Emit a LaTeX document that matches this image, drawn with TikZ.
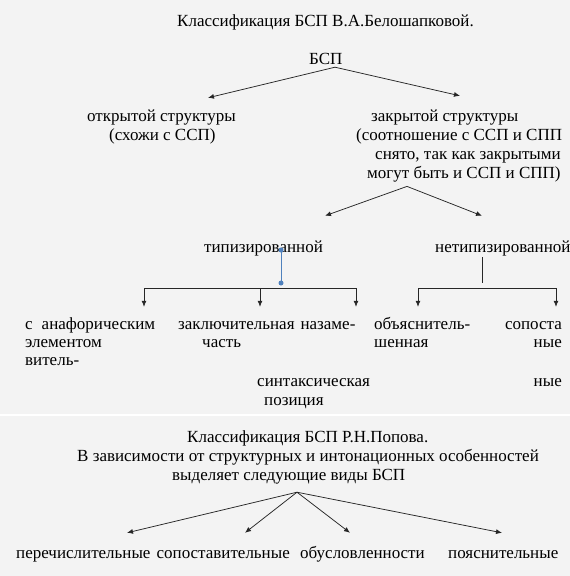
\documentclass[tikz,border=0pt]{standalone}
\usepackage{fontspec}
\setmainfont{Liberation Serif}
\usetikzlibrary{positioning, arrows.meta}
\definecolor{paper}{HTML}{F3F3F3}
\definecolor{officeBlue}{HTML}{4F81BD}

\begin{document}
\begin{tikzpicture}[x=1pt, y=-1pt,
    txt/.style={anchor=west, inner sep=0pt, text height=11pt, text depth=3pt, font=\fontsize{17}{20}\selectfont},
    arrow/.style={draw=black!85, line width=0.75pt, -{Latex[length=6pt, width=5pt]}},
    bar/.style={draw=black!85, line width=0.75pt},
    blueLink/.style={draw=officeBlue, line width=1pt},
    dot/.style={circle, fill=officeBlue, inner sep=0pt, minimum size=5pt},
]
\useasboundingbox (0,0) rectangle (570,576);
\fill[paper] (0,0) rectangle (570,576);
\draw[white, line width=1.5pt] (0,415) -- (570,415);

% Classification by Beloshapkova
\node[txt] (title) at (177,22) {Классификация БСП В.А.Белошапковой.};
\node[txt] (bsp) at (309,60) {БСП};
\node[txt] (open) at (87,117) {открытой структуры};
\node[txt, below=5pt of open.south west, anchor=north west, xshift=22pt] (openNote) {(схожи с ССП)};
\node[txt] (closed) at (371,117) {закрытой структуры};
\node[txt, below=5pt of closed.south west, anchor=north west, xshift=-15pt] (closedNoteA) {(соотношение с ССП и СПП};
\node[txt, below=5pt of closedNoteA.south west, anchor=north west, xshift=19pt] (closedNoteB) {снято, так как закрытыми};
\node[txt, below=4pt of closedNoteB.south west, anchor=north west, xshift=-8pt] (closedNoteC) {могут быть и ССП и СПП)};

\node[txt] (typed) at (204,248) {типизированной};
\node[txt] (untyped) at (435,248) {нетипизированной};

% leaves of the typed branch
\node[txt] (anaph) at (25,325) {с\hspace{9pt}анафорическим};
\node[txt, below=4pt of anaph.south west, anchor=north west] (anaphB) {элементом};
\node[txt, below=4pt of anaphB.south west, anchor=north west] (anaphC) {витель-};
\node[txt] (final) at (178,325) {заключительная\hspace{6pt}назаме-};
\node[txt] (finalB) at (202,343) {часть};
\node[txt] (syntax) at (257,382) {синтаксическая};
\node[txt, below=5pt of syntax.south west, anchor=north west, xshift=7pt] (syntaxB) {позиция};

% leaves of the untyped branch
\node[txt] (expl) at (374,325) {объяснитель-};
\node[txt, below=4pt of expl.south west, anchor=north west] (explB) {шенная};
\node[txt, anchor=east] (compar) at (562,325) {сопоста};
\node[txt, anchor=east] (comparB) at (562,343) {ные};
\node[txt, anchor=east] (comparC) at (562,382) {ные};

% Classification by Popov
\node[txt] (popovTitle) at (187,438) {Классификация БСП Р.Н.Попова.};
\node[txt] (popovNote) at (77,457) {В зависимости от структурных и интонационных особенностей};
\node[txt] (popovKinds) at (172,476) {выделяет следующие виды БСП};

\node[txt] (enum) at (16,554) {перечислительные};
\node[txt, anchor=east] (contrast) at (290,554) {сопоставительные};
\node[txt] (cond) at (300,554) {обусловленности};
\node[txt] (explain) at (448,554) {пояснительные};

% bars under the second level
\coordinate (tBarL) at (144,288);
\coordinate (tBarM) at (260,288);
\coordinate (tBarR) at (356,288);
\coordinate (uBarL) at (418,288);
\coordinate (uBarR) at (556,288);

% Arrows for Beloshapkova
\draw[arrow] ([xshift=26pt]bsp.south west) -- ([xshift=121pt, yshift=12pt]open.north west);
\draw[arrow] ([xshift=26pt]bsp.south west) -- ([xshift=89pt, yshift=14pt]closed.north west);
\draw[arrow] ([xshift=40pt, yshift=-5pt]closedNoteC.south west) -- ([xshift=121pt, yshift=25pt]typed.north west);
\draw[arrow] ([xshift=40pt, yshift=-5pt]closedNoteC.south west) -- ([xshift=47pt, yshift=25pt]untyped.north west);

\draw[blueLink] ([xshift=77pt, yshift=-2pt]typed.west) node[dot] {} -- ++(0,33) node[dot] {};
\draw[bar] (tBarL) -- (tBarR);
\draw[arrow, shorten >=11pt] (tBarL) -- (tBarL |- anaph.north);
\draw[arrow, shorten >=11pt] (tBarM) -- (tBarM |- final.north);
\draw[arrow, shorten >=11pt] (tBarR) -- (tBarR |- final.north);

\draw[bar] ([xshift=47pt, yshift=-9pt]untyped.west) -- ++(0,26);
\draw[bar] (uBarL) -- (uBarR);
\draw[arrow, shorten >=11pt] (uBarL) -- (uBarL |- expl.north);
\draw[arrow, shorten >=11pt] (uBarR) -- (uBarR |- compar.north);

% Arrows for Popov
\draw[arrow] ([xshift=125pt, yshift=-9pt]popovKinds.south west) -- ([xshift=111pt, yshift=14pt]enum.north west);
\draw[arrow] ([xshift=125pt, yshift=-9pt]popovKinds.south west) -- ([xshift=-45pt, yshift=14pt]contrast.north east);
\draw[arrow] ([xshift=125pt, yshift=-9pt]popovKinds.south west) -- ([xshift=50pt, yshift=14pt]cond.north west);
\draw[arrow] ([xshift=125pt, yshift=-9pt]popovKinds.south west) -- ([xshift=54pt, yshift=14pt]explain.north west);

\end{tikzpicture}
\end{document}
